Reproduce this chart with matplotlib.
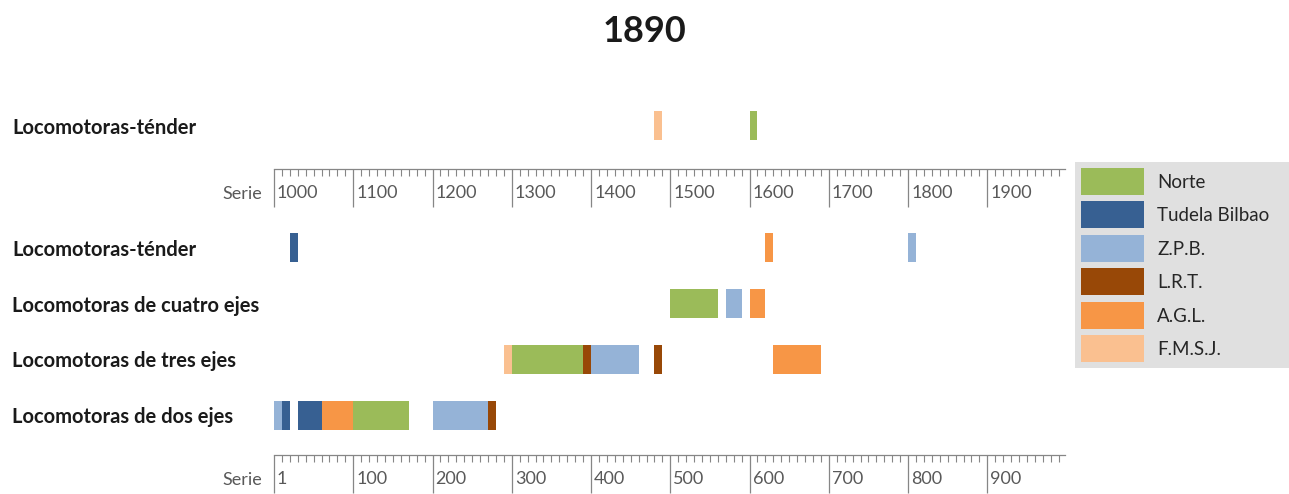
import matplotlib
matplotlib.use("Agg")

import matplotlib.pyplot as plt
import matplotlib.transforms as mtransforms
from matplotlib.patches import Patch

plt.rcParams['font.family'] = ['Lato', 'DejaVu Sans']

# Companies and colours (legend order)
companies = ["Norte", "Tudela Bilbao", "Z.P.B.", "L.R.T.", "A.G.L.", "F.M.S.J."]
colors = ["#9BBB59", "#376092", "#95B3D7", "#984807", "#F79646", "#FAC090"]

# Lower panel rows (bottom to top)
rows = ["Locomotoras de dos ejes", "Locomotoras de tres ejes",
        "Locomotoras de cuatro ejes", "Locomotoras-ténder"]

# Series ranges in the lower panel: company index, row index, first, last
seg_company = [2, 1, 1, 4, 0, 2, 3,
               5, 0, 3, 2, 3, 4,
               0, 2, 4,
               1, 4, 2]
seg_row = [0, 0, 0, 0, 0, 0, 0,
           1, 1, 1, 1, 1, 1,
           2, 2, 2,
           3, 3, 3]
seg_first = [1, 11, 31, 61, 101, 201, 271,
             291, 301, 391, 401, 481, 631,
             501, 571, 601,
             21, 621, 801]
seg_last = [10, 20, 60, 100, 170, 270, 280,
            300, 390, 400, 460, 490, 690,
            560, 590, 620,
            30, 630, 810]

# Upper panel (series 1000+)
top_row = "Locomotoras-ténder"
top_company = [5, 0]
top_first = [1481, 1601]
top_last = [1490, 1610]

bottom_ticks = [0, 100, 200, 300, 400, 500, 600, 700, 800, 900]
bottom_labels = ["1", "100", "200", "300", "400", "500", "600", "700", "800", "900"]
top_ticks = [1000, 1100, 1200, 1300, 1400, 1500, 1600, 1700, 1800, 1900]
top_labels = ["1000", "1100", "1200", "1300", "1400", "1500", "1600", "1700", "1800", "1900"]

W, H = 1289, 494
fig = plt.figure(figsize=(W / 100, H / 100), dpi=100)

unit = 55.7          # pixels per row
bar_h = 29 / unit
left_px, right_px = 274, 1065
axis_gray = "#868686"
text_gray = "#595959"


def px_axes(top, bottom):
    return fig.add_axes([left_px / W, 1 - bottom / H,
                         (right_px - left_px) / W, (bottom - top) / H])


def style_scale(ax, lo, ticks, labels):
    ax.set_xlim(lo, lo + 998)
    ax.set_xticks(ticks)
    ax.set_xticklabels(labels)
    ax.set_xticks(range(lo, lo + 1000, 10), minor=True)
    for s in ["top", "left", "right"]:
        ax.spines[s].set_visible(False)
    ax.spines["bottom"].set_color(axis_gray)
    ax.spines["bottom"].set_linewidth(0.9)
    ax.tick_params(axis="x", which="major", direction="out", length=27.5,
                   width=0.9, color=axis_gray, pad=-16, labelsize=13,
                   labelcolor=text_gray)
    ax.tick_params(axis="x", which="minor", direction="out", length=5,
                   width=0.8, color=axis_gray)
    off = mtransforms.ScaledTranslation(3 / 100, 0, fig.dpi_scale_trans)
    for tick in ax.xaxis.get_major_ticks():
        tick.label1.set_horizontalalignment("left")
        tick.label1.set_transform(tick.label1.get_transform() + off)
    ax.tick_params(axis="y", length=0, pad=(left_px - 12) * 0.72,
                   labelsize=14.5)
    for lab in ax.get_yticklabels():
        lab.set_horizontalalignment("left")
        lab.set_fontweight("bold")
        lab.set_color("#1a1a1a")
    ax.annotate("Serie", xy=(0, 0), xycoords="axes fraction",
                xytext=(-12, -25), textcoords="offset pixels",
                ha="right", va="center", fontsize=13, color=text_gray)


# Upper panel
ax_top = px_axes(98, 169)
for c, a, b in zip(top_company, top_first, top_last):
    ax_top.barh(0, b - a + 1, left=a - 1, height=bar_h, color=colors[c])
ax_top.set_ylim(-43 / unit, 28 / unit)
ax_top.set_yticks([0])
ax_top.set_yticklabels([top_row])
style_scale(ax_top, 1000, top_ticks, top_labels)

# Lower panel
ax = px_axes(225, 455)
for c, r, a, b in zip(seg_company, seg_row, seg_first, seg_last):
    ax.barh(r, b - a + 1, left=a - 1, height=bar_h, color=colors[c])
ax.set_ylim(-40 / unit, 3 + 23 / unit)
ax.set_yticks(range(len(rows)))
ax.set_yticklabels(rows)
style_scale(ax, 0, bottom_ticks, bottom_labels)

# Title
fig.text(0.5, 1 - 32 / H, "1890", ha="center", va="center",
         fontsize=26, fontweight="bold", color="#1a1a1a")

# Legend
handles = [Patch(facecolor=col, edgecolor="none") for col in colors]
fs = 13.5
fpx = fs / 0.72
hh = (27 / fpx - 0.245) / 0.65
leg = fig.legend(handles, companies, loc="upper left",
                 bbox_to_anchor=(1075 / W, 1 - 162 / H - 0.01, 214 / W, 0.01),
                 mode="expand", fontsize=fs, frameon=True, fancybox=False,
                 handlelength=63 / fpx, handleheight=hh,
                 labelspacing=6.5 / fpx, borderpad=6 / fpx,
                 handletextpad=13 / fpx, borderaxespad=0)
leg.get_frame().set_facecolor("#d9d9d9")
leg.get_frame().set_edgecolor("none")
for t in leg.get_texts():
    t.set_color("#262626")

fig.savefig("out.png", dpi=100)
